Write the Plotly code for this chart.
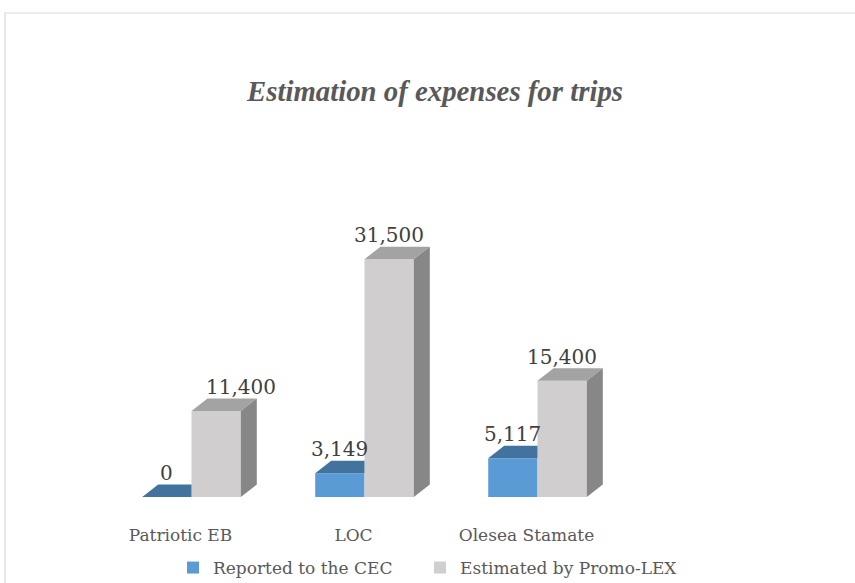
import plotly.graph_objects as go

# ---- data ----
categories = ["Patriotic EB", "LOC", "Olesea Stamate"]
series_names = ["Reported to the CEC", "Estimated by Promo-LEX"]
reported = [0, 3149, 5117]
estimated = [11400, 31500, 15400]
title_text = "Estimation of expenses for trips"

# ---- geometry / style ----
W, H = 855, 583
L, R, T, B = 105, 231, 195, 86
plot_w = W - L - R
plot_h = H - T - B
y_max = 40000
x_rng = [-0.5, len(categories) - 0.5]
px_per_x = plot_w / (x_rng[1] - x_rng[0])
px_per_y = plot_h / y_max
bw = 0.285                      # bar width (x units)
dx = 16 / px_per_x              # depth offset in x units
dy = 12.5 / px_per_y            # depth offset in y units

blue_front, blue_top = "#5B9BD5", "#42729E"
gray_front, gray_top, gray_side = "#D0CECF", "#A3A3A3", "#878787"
font_serif = "DejaVu Serif"

xs = list(range(len(categories)))
fig = go.Figure()

# front faces
fig.add_trace(go.Bar(x=xs, y=reported, width=bw, offset=-bw, name=series_names[0],
                     marker=dict(color=blue_front, line=dict(width=0)), hoverinfo="skip",
                     legend="legend"))
fig.add_trace(go.Bar(x=xs, y=estimated, width=bw, offset=0, name=series_names[1],
                     marker=dict(color=gray_front, line=dict(width=0)), hoverinfo="skip",
                     legend="legend2"))

# 3D faces
for i, (rv, ev) in enumerate(zip(reported, estimated)):
    # blue top (right part hidden behind gray front)
    x0, x1 = i - bw, i
    fig.add_trace(go.Scatter(x=[x0, x1, x1, x0 + dx, x0], y=[rv, rv, rv + dy, rv + dy, rv],
                             fill="toself", fillcolor=blue_top, mode="lines",
                             line=dict(width=0), showlegend=False, hoverinfo="skip"))
    # gray top
    g0, g1 = i, i + bw
    fig.add_trace(go.Scatter(x=[g0, g1, g1 + dx, g0 + dx, g0], y=[ev, ev, ev + dy, ev + dy, ev],
                             fill="toself", fillcolor=gray_top, mode="lines",
                             line=dict(width=0), showlegend=False, hoverinfo="skip"))
    # gray side
    fig.add_trace(go.Scatter(x=[g1, g1 + dx, g1 + dx, g1, g1], y=[0, dy, ev + dy, ev, 0],
                             fill="toself", fillcolor=gray_side, mode="lines",
                             line=dict(width=0), showlegend=False, hoverinfo="skip"))

# data labels
label_font = dict(family=font_serif, size=20, color="#404040")
for i, (rv, ev) in enumerate(zip(reported, estimated)):
    fig.add_annotation(x=i - bw / 2, y=rv, text=f"{rv:,}", showarrow=False,
                       yanchor="middle", yshift=24, font=label_font)
    fig.add_annotation(x=i + bw / 2, y=ev, text=f"{ev:,}", showarrow=False,
                       yanchor="middle", yshift=24, xshift=25 if i == 0 else 0, font=label_font)

# chart frame
fig.add_shape(type="rect", xref="paper", yref="paper",
              x0=(5 - L) / plot_w, x1=(W + 20 - L) / plot_w,
              y0=-(B + 20) / plot_h, y1=1 + (T - 13) / plot_h,
              line=dict(color="#D9D9D9", width=1.2), fillcolor="rgba(0,0,0,0)", layer="below")

legend_font = dict(family=font_serif, size=17, color="#595959")
fig.update_layout(
    width=W, height=H,
    margin=dict(l=L, r=R, t=T, b=B, autoexpand=False),
    paper_bgcolor="white", plot_bgcolor="white",
    barmode="overlay",
    title=dict(text=title_text, x=435 / W, xanchor="center", xref="container",
               y=1 - 91 / H, yanchor="middle", yref="container",
               font=dict(family="Liberation Serif", size=28.8, color="#595959",
                         weight="bold", style="italic")),
    xaxis=dict(range=x_rng, tickvals=xs, ticktext=categories, showgrid=False,
               zeroline=False, showline=False, ticks="",
               tickfont=dict(family=font_serif, size=17, color="#595959"),
               ticklabelshift=-11, ticklabelstandoff=26, fixedrange=True),
    yaxis=dict(range=[0, y_max], visible=False, fixedrange=True),
    showlegend=True,
    legend=dict(orientation="h", xref="container", yref="container",
                x=173 / W, xanchor="left", y=1 - 568 / H, yanchor="middle",
                font=legend_font),
    legend2=dict(orientation="h", xref="container", yref="container",
                 x=420 / W, xanchor="left", y=1 - 568 / H, yanchor="middle",
                 font=legend_font),
)

fig.write_html("out.html", config={"displayModeBar": False},
               post_script="document.body.style.margin='0';document.body.style.overflow='hidden';")
